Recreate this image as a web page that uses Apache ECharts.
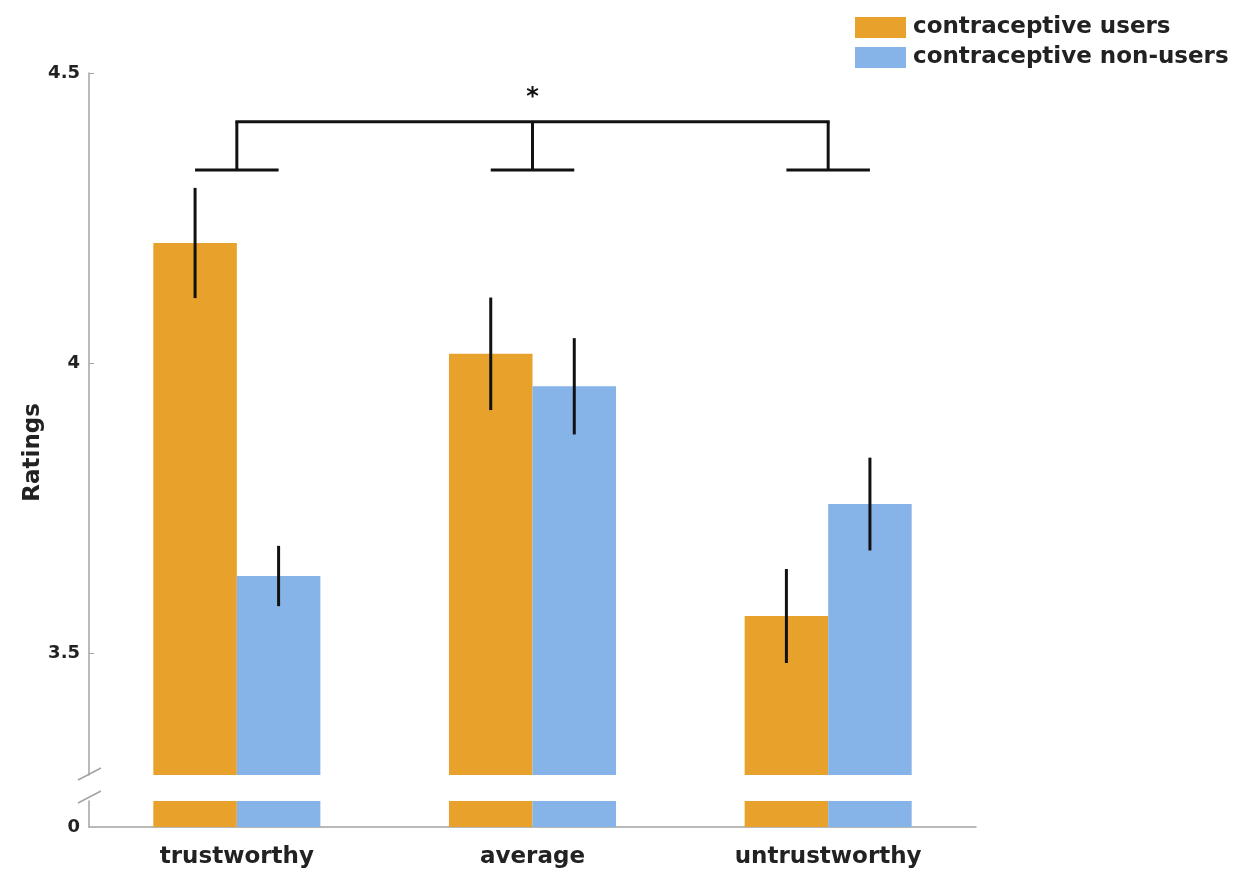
<!DOCTYPE html>
<html>
<head>
<meta charset="utf-8">
<title>Ratings by contraceptive use</title>
<script src="https://cdn.jsdelivr.net/npm/echarts@6/dist/echarts.min.js"></script>
<style>
  html, body { margin: 0; padding: 0; background: #fff; }
  #chart { width: 1243px; height: 876px; }
</style>
</head>
<body>
<div id="chart"></div>
<script>
// Face categories and mean ratings (with error half-widths) per group
const categories = ['trustworthy', 'average', 'untrustworthy'];
const usersMean = [4.207, 4.016, 3.564];
const usersErr = [0.095, 0.097, 0.081];
const nonUsersMean = [3.633, 3.960, 3.757];
const nonUsersErr = [0.052, 0.083, 0.080];
const seriesNames = ['contraceptive users', 'contraceptive non-users'];

// Upper axis ticks and the broken lower segment tick
const upperTicks = [3.5, 4, 4.5];
const lowerTicks = [0];

// Significance bracket levels (in rating units)
const bracketLevel = 4.416;
const bracketFoot = 4.333;
const starLevel = 4.458;

const ORANGE = '#E8A12B';
const BLUE = '#87B4E8';
const AXIS = '#a3a3a3';
const INK = '#222';
const FONT = 'DejaVu Sans';
const CAT_GAP = 0.435;

const chart = echarts.init(document.getElementById('chart'), null, { renderer: 'canvas' });

function barWidth(api) {
  return api.size([1, 0])[0] * (1 - CAT_GAP) / 2;
}

function errorBarRenderer(sign) {
  return function (params, api) {
    const x = api.value(0), m = api.value(1), e = api.value(2);
    const off = sign * barWidth(api) / 2;
    const p1 = api.coord([x, m + e]);
    const p2 = api.coord([x, m - e]);
    return {
      type: 'line',
      shape: { x1: p1[0] + off, y1: p1[1], x2: p2[0] + off, y2: p2[1] },
      style: { stroke: '#111', lineWidth: 3 }
    };
  };
}

function bracketRenderer(params, api) {
  const x = api.value(0);
  const bw = barWidth(api);
  const top = api.coord([x, bracketLevel]);
  const foot = api.coord([x, bracketFoot]);
  const style = { stroke: '#111', lineWidth: 3 };
  const children = [
    { type: 'line', shape: { x1: top[0], y1: top[1], x2: foot[0], y2: foot[1] }, style },
    { type: 'line', shape: { x1: foot[0] - bw / 2, y1: foot[1], x2: foot[0] + bw / 2, y2: foot[1] }, style }
  ];
  if (params.dataIndex === 0) {
    const end = api.coord([categories.length - 1, bracketLevel]);
    children.push({ type: 'line', shape: { x1: top[0] - 1.5, y1: top[1], x2: end[0] + 1.5, y2: end[1] }, style });
  }
  if (params.dataIndex === 1) {
    const s = api.coord([x, starLevel]);
    children.push({
      type: 'text',
      style: { text: '*', x: s[0], y: s[1], align: 'center', verticalAlign: 'middle',
               font: 'bold 24px "' + FONT + '"', fill: '#111' }
    });
  }
  return { type: 'group', children };
}

const barBase = { type: 'bar', barGap: '0%', barCategoryGap: (CAT_GAP * 100) + '%', clip: true };

chart.setOption({
  animation: false,
  backgroundColor: '#fff',
  textStyle: { fontFamily: FONT },
  grid: [
    { left: 89, right: 267, top: 73, height: 702 },
    { left: 89, right: 267, top: 801, height: 26 }
  ],
  legend: {
    data: seriesNames,
    orient: 'vertical',
    left: 850,
    top: 11,
    itemWidth: 51,
    itemHeight: 21,
    itemGap: 7,
    icon: 'rect',
    textStyle: { fontFamily: FONT, fontWeight: 'bold', fontSize: 23, color: INK, lineHeight: 20, padding: [0, 0, 0, 2] }
  },
  xAxis: [
    { type: 'category', gridIndex: 0, data: categories,
      axisLine: { show: false }, axisTick: { show: false }, axisLabel: { show: false } },
    { type: 'category', gridIndex: 1, data: categories,
      axisLine: { show: true, lineStyle: { color: AXIS, width: 1.5 } },
      axisTick: { show: false },
      axisLabel: { fontFamily: FONT, fontWeight: 'bold', fontSize: 23, color: INK, margin: 19 } }
  ],
  yAxis: [
    { type: 'value', gridIndex: 0, min: 3.29, max: 4.5,
      axisLine: { show: true, lineStyle: { color: AXIS, width: 1.5 } },
      axisTick: { show: true, inside: true, length: 5, customValues: upperTicks, lineStyle: { color: AXIS } },
      axisLabel: { customValues: upperTicks, fontFamily: FONT, fontWeight: 'bold', fontSize: 18, color: INK, margin: 9 },
      splitLine: { show: false } },
    { type: 'value', gridIndex: 1, min: 0, max: 0.05,
      axisLine: { show: true, lineStyle: { color: AXIS, width: 1.5 } },
      axisTick: { show: false, customValues: lowerTicks },
      axisLabel: { customValues: lowerTicks, fontFamily: FONT, fontWeight: 'bold', fontSize: 18, color: INK, margin: 9 },
      splitLine: { show: false } }
  ],
  graphic: [
    { type: 'text', left: 22, top: 403, rotation: Math.PI / 2,
      style: { text: 'Ratings', font: 'bold 23px "' + FONT + '"', fill: INK } },
    { type: 'line', shape: { x1: 78, y1: 780, x2: 101, y2: 768 }, style: { stroke: AXIS, lineWidth: 1.5 }, z: 10 },
    { type: 'line', shape: { x1: 78, y1: 803, x2: 101, y2: 791 }, style: { stroke: AXIS, lineWidth: 1.5 }, z: 10 }
  ],
  series: [
    Object.assign({}, barBase, { name: seriesNames[0], xAxisIndex: 0, yAxisIndex: 0, data: usersMean, itemStyle: { color: ORANGE } }),
    Object.assign({}, barBase, { name: seriesNames[1], xAxisIndex: 0, yAxisIndex: 0, data: nonUsersMean, itemStyle: { color: BLUE } }),
    Object.assign({}, barBase, { name: seriesNames[0], xAxisIndex: 1, yAxisIndex: 1, data: usersMean, itemStyle: { color: ORANGE } }),
    Object.assign({}, barBase, { name: seriesNames[1], xAxisIndex: 1, yAxisIndex: 1, data: nonUsersMean, itemStyle: { color: BLUE } }),
    { type: 'custom', xAxisIndex: 0, yAxisIndex: 0, z: 5, clip: false,
      renderItem: errorBarRenderer(-1),
      data: usersMean.map((m, i) => [i, m, usersErr[i]]) },
    { type: 'custom', xAxisIndex: 0, yAxisIndex: 0, z: 5, clip: false,
      renderItem: errorBarRenderer(1),
      data: nonUsersMean.map((m, i) => [i, m, nonUsersErr[i]]) },
    { type: 'custom', xAxisIndex: 0, yAxisIndex: 0, z: 5, clip: false,
      renderItem: bracketRenderer,
      data: categories.map((c, i) => [i]) }
  ]
});
</script>
</body>
</html>
